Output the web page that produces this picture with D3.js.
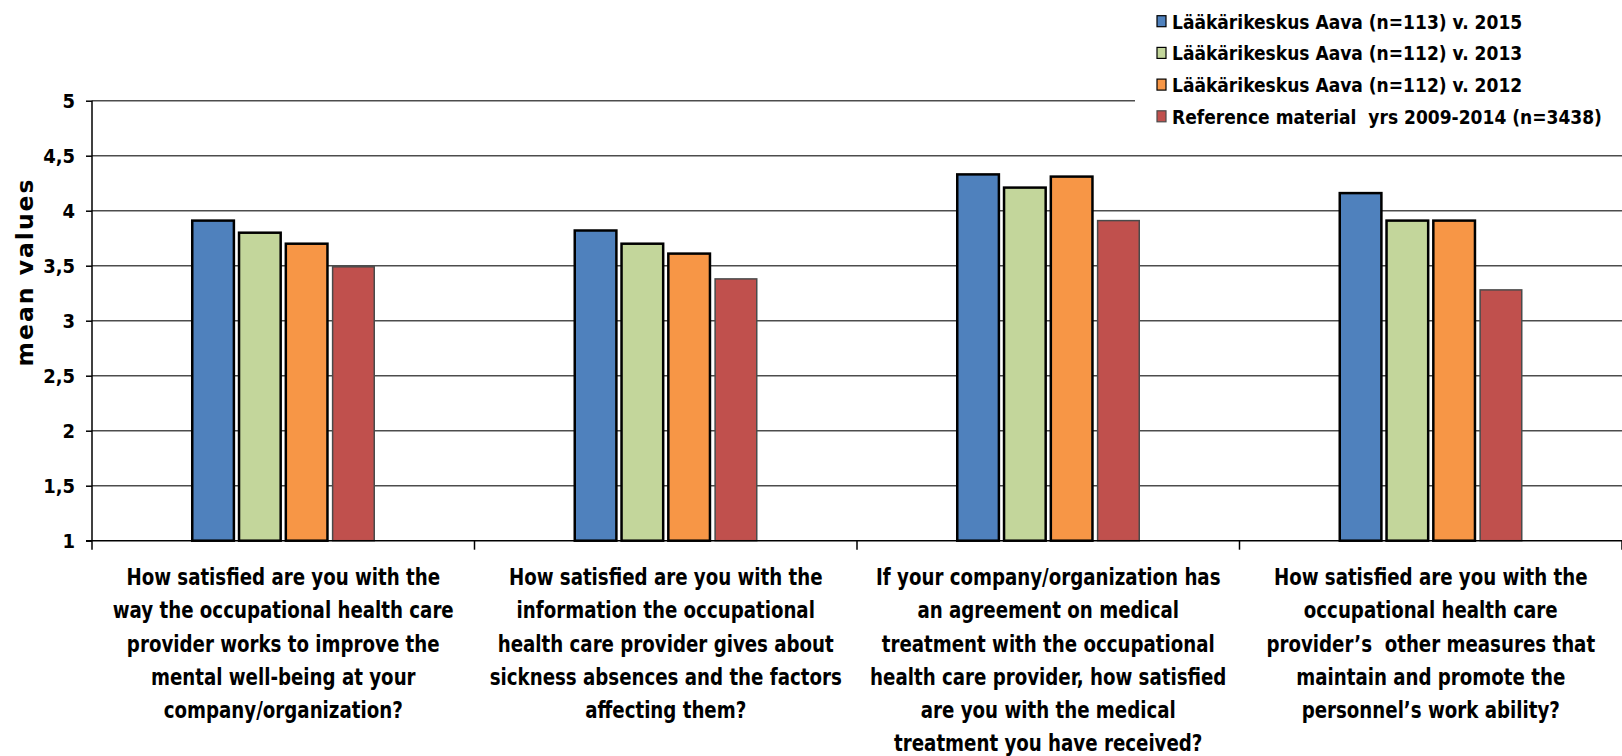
<!DOCTYPE html>
<html>
<head>
<meta charset="utf-8">
<script src="https://cdn.jsdelivr.net/npm/d3@7"></script>
<style>
  body { margin: 0; background: #fff; }
  svg text { font-family: "DejaVu Sans Condensed", "DejaVu Sans", sans-serif; font-weight: bold; fill: #000; white-space: pre; }
</style>
</head>
<body>
<div id="chart"></div>
<script>
// categories (one label line per entry)
var categories = [
  ["How satisfied are you with the", "way the occupational health care", "provider works to improve the", "mental well-being at your", "company/organization?"],
  ["How satisfied are you with the", "information the occupational", "health care provider gives about", "sickness absences and the factors", "affecting them?"],
  ["If your company/organization has", "an agreement on medical", "treatment with the occupational", "health care provider, how satisfied", "are you with the medical", "treatment you have received?"],
  ["How satisfied are you with the", "occupational health care", "provider\u2019s  other measures that", "maintain and promote the", "personnel\u2019s work ability?"]
];
var seriesNames = [
  "Lääkärikeskus Aava (n=113) v. 2015",
  "Lääkärikeskus Aava (n=112) v. 2013",
  "Lääkärikeskus Aava (n=112) v. 2012",
  "Reference material  yrs 2009-2014 (n=3438)"
];
var aava2015 = [3.91, 3.82, 4.33, 4.16];
var aava2013 = [3.80, 3.70, 4.21, 3.91];
var aava2012 = [3.70, 3.61, 4.31, 3.91];
var reference = [3.49, 3.38, 3.91, 3.28];
var yTicks = [1, 1.5, 2, 2.5, 3, 3.5, 4, 4.5, 5];

var series = [aava2015, aava2013, aava2012, reference];
var colors = ["#4f81bd", "#c3d69b", "#f79646", "#c0504d"];
var strokes = ["#000", "#000", "#000", "#4a4a4a"];
var strokeW = [2.5, 2.5, 2.5, 1.5];

var W = 1622, H = 756;
var mLeft = 92, mRight = 1622, mTop = 100.7, mBottom = 540.7;

var svg = d3.select("#chart").append("svg").attr("width", W).attr("height", H);

var y = d3.scaleLinear().domain([1, 5]).range([mBottom, mTop]);
var x0 = d3.scaleBand().domain(d3.range(categories.length)).range([mLeft, mRight]);
var half = 91;
var x1 = d3.scaleBand().domain(d3.range(series.length))
  .range([x0.bandwidth() / 2 - half, x0.bandwidth() / 2 + half]).paddingInner(0.11);

// gridlines
svg.append("g").selectAll("line").data(yTicks.slice(1)).enter().append("line")
  .attr("x1", mLeft).attr("x2", mRight)
  .attr("y1", function(d) { return y(d); }).attr("y2", function(d) { return y(d); })
  .attr("stroke", "#4d4d4d").attr("stroke-width", 1.5);

// y axis
var yAxis = svg.append("g").attr("transform", "translate(" + mLeft + ",0)")
  .call(d3.axisLeft(y).tickValues(yTicks).tickSize(6).tickPadding(11)
    .tickFormat(function(d) { return String(d).replace(".", ","); }));
yAxis.selectAll("path, line").attr("stroke", "#000").attr("stroke-width", 1.5);
yAxis.select(".domain").attr("d", "M0," + mBottom + "V" + mTop);
yAxis.selectAll("text").style("font-size", "20px").attr("font-family", null).attr("fill", "#000");

svg.append("text").attr("transform", "translate(33,272) rotate(-90)")
  .attr("text-anchor", "middle").style("font-size", "23.5px").style("letter-spacing", "2px")
  .style("font-family", "'DejaVu Sans', sans-serif")
  .text("mean values");

// bars
var groups = svg.append("g").selectAll("g").data(categories).enter().append("g")
  .attr("transform", function(d, i) { return "translate(" + x0(i) + ",0)"; });
groups.selectAll("rect").data(function(d, i) { return series.map(function(s, j) { return { s: j, v: s[i] }; }); })
  .enter().append("rect")
  .attr("x", function(d) { return x1(d.s); })
  .attr("width", x1.bandwidth())
  .attr("y", function(d) { return y(d.v); })
  .attr("height", function(d) { return mBottom - y(d.v); })
  .attr("fill", function(d) { return colors[d.s]; })
  .attr("stroke", function(d) { return strokes[d.s]; })
  .attr("stroke-width", function(d) { return strokeW[d.s]; });

// x axis
var xAxis = svg.append("g").attr("transform", "translate(0," + mBottom + ")");
xAxis.append("line").attr("x1", mLeft - 6).attr("x2", mRight).attr("stroke", "#000").attr("stroke-width", 1.5);
xAxis.selectAll(".tk").data(d3.range(categories.length + 1)).enter().append("line")
  .attr("x1", function(d) { return mLeft + d * x0.step(); })
  .attr("x2", function(d) { return mLeft + d * x0.step(); })
  .attr("y1", 0).attr("y2", 9).attr("stroke", "#000").attr("stroke-width", 1.5);

// category labels
groups.append("text").attr("text-anchor", "middle").style("font-size", "22.5px")
  .attr("transform", "translate(" + (x0.bandwidth() / 2) + ",0) scale(0.9,1)")
  .selectAll("tspan").data(function(d) { return d; }).enter().append("tspan")
  .attr("x", 0)
  .attr("y", function(d, i) { return 585 + i * 33.3; })
  .text(function(d) { return d; });

// legend
var lg = svg.append("g");
lg.append("rect").attr("x", 1135).attr("y", 0).attr("width", W - 1135).attr("height", 134).attr("fill", "#fff");
var items = lg.selectAll(".it").data(seriesNames).enter().append("g")
  .attr("transform", function(d, i) { return "translate(1157," + (21.7 + i * 31.7) + ")"; });
items.append("rect").attr("x", 0).attr("y", -6).attr("width", 9).attr("height", 11)
  .attr("fill", function(d, i) { return colors[i]; })
  .attr("stroke", function(d, i) { return strokes[i]; }).attr("stroke-width", 1.2);
items.append("text").attr("x", 15).attr("dy", "0.36em").style("font-size", "19px")
  .text(function(d) { return d; });
</script>
</body>
</html>
